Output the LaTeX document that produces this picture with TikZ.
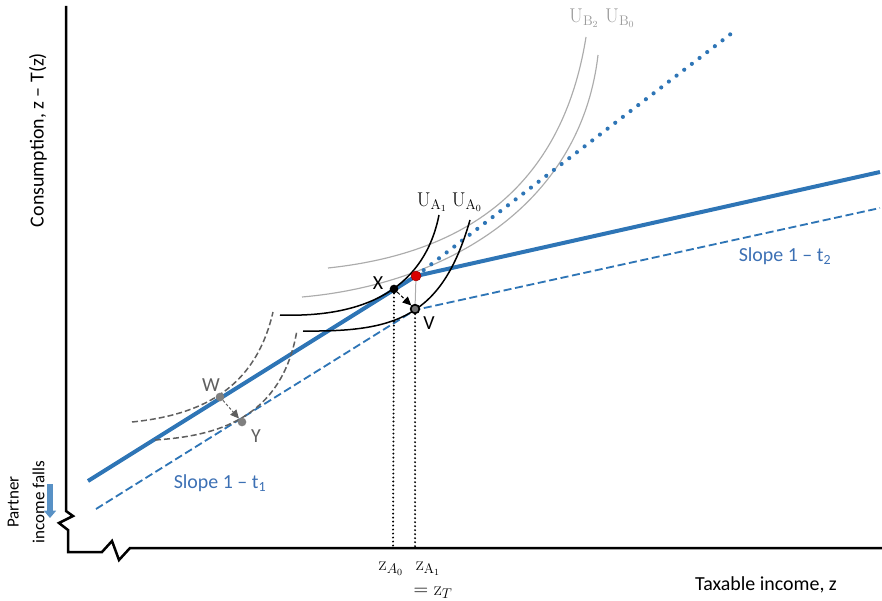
\documentclass[tikz,border=0pt]{standalone}
\usepackage{fontspec}
\setsansfont{Carlito}
\usepackage{tikz}
\usetikzlibrary{arrows.meta}
\definecolor{budblue}{RGB}{46,117,182}
\definecolor{slopeblue}{RGB}{60,112,180}
\definecolor{ubgray}{RGB}{172,172,172}
\definecolor{dgray}{RGB}{95,95,95}
\tikzset{
  axis/.style={line width=0.75mm, black},
  budget/.style={line width=1.2mm, budblue},
  lowbudget/.style={line width=0.55mm, budblue, dash pattern=on 2.4mm off 1.1mm},
  extbudget/.style={line width=1.25mm, budblue, line cap=round, dash pattern=on 0pt off 2.9mm},
  dropline/.style={line width=0.65mm, black, line cap=round, dash pattern=on 0pt off 1.2mm},
  ucurveA/.style={line width=0.45mm, black},
  ucurveB/.style={line width=0.35mm, ubgray},
  ucurveW/.style={line width=0.45mm, dgray, dash pattern=on 1.8mm off 0.9mm},
  pt/.style={circle, inner sep=0pt, minimum size=2.6mm},
  lbl/.style={font=\sffamily\fontsize{17}{20}\selectfont},
  ulbl/.style={font=\fontsize{17}{20}\selectfont, inner sep=1pt},
  slope/.style={lbl, slopeblue}
}
\begin{document}
\begin{tikzpicture}[x=0.3mm, y=-0.3mm]
  \useasboundingbox (0,0) rectangle (882,601);

  % axes with breaks
  \coordinate (ytop) at (66,6);
  \coordinate (xend) at (882,548);
  \draw[axis] (ytop) -- (66,511) -- (73,516) -- (59,523) -- (68,530) -- (68,552)
    -- (102,552) -- (112,541) -- (119,560) -- (130,548) -- (xend);

  % key points
  \coordinate (bstart) at (88,481);
  \coordinate (bend) at (880,172);
  \coordinate (lstart) at (96,509);
  \coordinate (lend) at (880,208);
  \coordinate (dotend) at (732,33);
  \coordinate (xfoot) at (393,548);
  \coordinate (vfoot) at (415,548);

  % indifference curves of B
  \draw[ucurveB] (328,268) .. controls (450,255) and (560,200) .. (586,37);
  \draw[ucurveB] (302,297) .. controls (440,285) and (580,210) .. (598,55);

  % budget sets
  \draw[lowbudget] (lstart) -- (415,310) -- (lend);
  \draw[extbudget] (416,276) -- (dotend);
  \draw[budget] (bstart) -- (416,276) -- (bend);

  % indifference curves of A
  \draw[ucurveA] (280,315) .. controls (370,318) and (425,285) .. (439,215);
  \draw[ucurveA] (303,331) .. controls (395,332) and (442,318) .. (470,220);

  % dashed indifference curves (W, Y)
  \draw[ucurveW] (132,422) .. controls (200,415) and (255,390) .. (273,312);
  \draw[ucurveW] (155,440) .. controls (215,436) and (282,420) .. (297,330);

  % points
  \node[pt, fill=black] (X) at (394,289) {};
  \node[pt, draw=black, line width=0.5mm, fill=black!55] (V) at (415,309) {};
  \node[pt, draw=red!60!black, fill=red!85!black, minimum size=3mm] (K) at (416,276) {};
  \node[pt, fill=dgray!80] (W) at (220,397) {};
  \node[pt, fill=dgray!80] (Y) at (242,422) {};

  % moves
  \draw[line width=0.3mm, ubgray] (K) -- (V);
  \draw[line width=0.3mm, black, dash pattern=on 1mm off 0.6mm, -{Triangle[length=2.6mm,width=2.4mm]}] (X) -- (V);
  \draw[line width=0.3mm, dgray, dash pattern=on 0.8mm off 0.6mm, -{Triangle[length=2.6mm,width=2.4mm]}] (W) -- (Y);

  % drop lines
  \draw[dropline] (X) -- (xfoot);
  \draw[dropline] (V) -- (vfoot);

  % labels
  \node[lbl] at (378,283) {X};
  \node[lbl] at (429,323) {V};
  \node[lbl, dgray] at (211,385) {W};
  \node[lbl, dgray] at (256,436) {Y};
  \node[ulbl] at (432,202) {$\mathrm{U}_{\mathrm{A}_1}$};
  \node[ulbl] at (467,202) {$\mathrm{U}_{\mathrm{A}_0}$};
  \node[ulbl, ubgray!90!black] at (584,18) {$\mathrm{U}_{\mathrm{B}_2}$};
  \node[ulbl, ubgray!90!black] at (620,18) {$\mathrm{U}_{\mathrm{B}_0}$};
  \node[slope] at (785,256) {Slope 1 -- t\textsubscript{2}};
  \node[slope] at (220,483) {Slope 1 -- t\textsubscript{1}};
  \node[ulbl, inner sep=0pt] at (391,569) {$\mathrm{z}_{A_0}$};
  \node[ulbl, inner sep=0pt] at (428,569) {$\mathrm{z}_{\mathrm{A}_1}$};
  \node[ulbl, inner sep=0pt] at (433,593) {$= \mathrm{z}_{T}$};
  \node[lbl] at (766,585) {Taxable income, z};
  \node[lbl, rotate=90] at (38,140) {Consumption, z -- T(z)};
  \node[font=\sffamily\fontsize{14.5}{22}\selectfont, align=center, rotate=90] at (26,502) {Partner\\income falls};

  % partner income arrow
  \coordinate (pa) at (50,484);
  \coordinate (pb) at (50,518);
  \draw[line width=1.7mm, budblue!80, -{Triangle[length=2.2mm,width=3.6mm]}] (pa) -- (pb);
\end{tikzpicture}
\end{document}
